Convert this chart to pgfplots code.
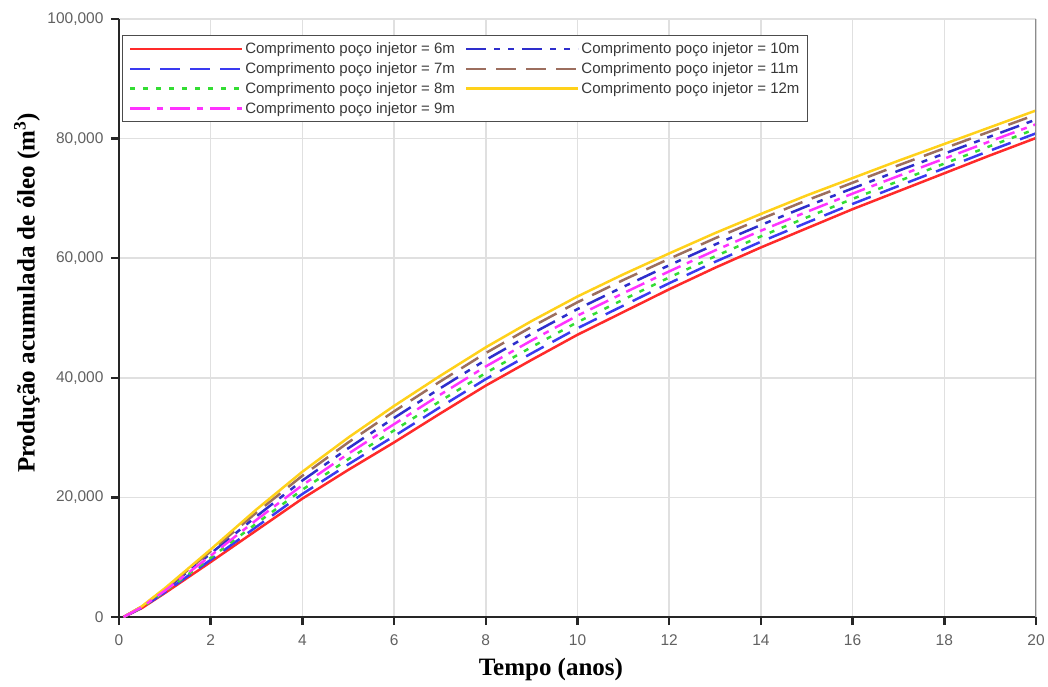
\documentclass[border=0pt]{standalone}
\usepackage{fontspec}
\setmainfont{Liberation Sans}
\newfontfamily\serifb{Liberation Serif}
\usepackage{pgfplots}
\pgfplotsset{compat=1.18}
\definecolor{c6}{HTML}{FF2A2A}
\definecolor{c7}{HTML}{3A3AF0}
\definecolor{c8}{HTML}{33DD33}
\definecolor{c9}{HTML}{FF33FF}
\definecolor{c10}{HTML}{2E2ECC}
\definecolor{c11}{HTML}{9C6E5E}
\definecolor{c12}{HTML}{FFD11A}
\begin{document}
\begin{tikzpicture}
\begin{axis}[
 scale only axis, width=917pt, height=598pt,
 xmin=0, xmax=20, ymin=0, ymax=100000,
 xtick={0,2,4,6,8,10,12,14,16,18,20}, ytick={0,20000,40000,60000,80000,100000},
 xticklabels={0,2,4,6,8,10,12,14,16,18,20},
 yticklabels={0,{20,000},{40,000},{60,000},{80,000},{100,000}},
 axis x line*=bottom, axis y line*=left,
 axis line style={line width=2.5pt, color=black!85},
 tick align=outside, major tick length=8pt,
 every tick/.style={line width=2.5pt, black!85},
 grid=major, grid style={line width=1.5pt, color=black!12},
 ticklabel style={font=\fontsize{15.5}{18}\selectfont, color=black!62},
 xticklabel style={yshift=-6pt},
 yticklabel style={xshift=-4pt},
 scaled y ticks=false,
 xlabel={\serifb\bfseries Tempo (anos)},
 xlabel style={at={(axis description cs:0.471,-0.0886)}, anchor=center, font=\fontsize{25}{30}\selectfont},
 ylabel={\serifb\bfseries Produção acumulada de óleo (m\textsuperscript{3})},
 ylabel style={at={(axis description cs:-0.1003,0.542)}, anchor=center, font=\fontsize{25}{30}\selectfont},
 legend style={at={(axis description cs:0.0035,0.973)}, anchor=north west, draw=black!70, line width=1.2pt, fill=white,
   font=\fontsize{15}{17}\selectfont, text=black!78, inner xsep=6pt, inner ysep=5pt, row sep=3.5pt,
   nodes={inner sep=2pt},
   /tikz/every even column/.append style={column sep=8pt}},
 legend columns=2, legend cell align=left,
 legend image code/.code={\draw[#1, line width=2.5pt] (0pt,0pt) -- (112pt,0pt);},
 every axis plot/.append style={line width=2.5pt},
]
\addplot[c6, solid] coordinates {(0.1,0)(0.5,1500)(1,4000)(2,9200)(3,14500)(4,19800)(5,24600)(6,29200)(7,34000)(8,38700)(9,43000)(10,47200)(11,51000)(12,54800)(13,58400)(14,61800)(15,65000)(16,68200)(17,71200)(18,74200)(19,77200)(20,80100)};
\addlegendentry{Comprimento poço injetor = 6m}
\addplot[c10, dash pattern=on 20pt off 8pt on 6pt off 8pt on 6pt off 8pt] coordinates {(0.1,0)(0.5,1700)(1,4540)(2,10610)(3,16850)(4,22820)(5,28220)(6,33290)(7,38220)(8,42990)(9,47360)(10,51490)(11,55220)(12,58820)(13,62290)(14,65550)(15,68690)(16,71680)(17,74620)(18,77480)(19,80350)(20,83180)};
\addlegendentry{Comprimento poço injetor = 10m}
\addplot[c7, dash pattern=on 20pt off 10pt] coordinates {(0.1,0)(0.5,1550)(1,4140)(2,9560)(3,15100)(4,20570)(5,25520)(6,30240)(7,35070)(8,39790)(9,44100)(10,48290)(11,52070)(12,55820)(13,59390)(14,62750)(15,65940)(16,69080)(17,72070)(18,75030)(19,78000)(20,80880)};
\addlegendentry{Comprimento poço injetor = 7m}
\addplot[c11, dash pattern=on 20pt off 10pt] coordinates {(0.1,0)(0.5,1760)(1,4680)(2,10990)(3,17480)(4,23630)(5,29190)(6,34390)(7,39360)(8,44140)(9,48530)(10,52640)(11,56360)(12,59900)(13,63330)(14,66560)(15,69680)(16,72620)(17,75540)(18,78370)(19,81200)(20,84010)};
\addlegendentry{Comprimento poço injetor = 11m}
\addplot[c8, dash pattern=on 5pt off 8pt] coordinates {(0.1,0)(0.5,1600)(1,4260)(2,9890)(3,15660)(4,21290)(5,26380)(6,31210)(7,36080)(8,40810)(9,45150)(10,49310)(11,53080)(12,56780)(13,60310)(14,63650)(15,66820)(16,69920)(17,72880)(18,75820)(19,78750)(20,81620)};
\addlegendentry{Comprimento poço injetor = 8m}
\addplot[c12, solid] coordinates {(0.1,0)(0.5,1800)(1,4800)(2,11300)(3,18000)(4,24300)(5,30000)(6,35300)(7,40300)(8,45100)(9,49500)(10,53600)(11,57300)(12,60800)(13,64200)(14,67400)(15,70500)(16,73400)(17,76300)(18,79100)(19,81900)(20,84700)};
\addlegendentry{Comprimento poço injetor = 12m}
\addplot[c9, dash pattern=on 20pt off 7pt on 6pt off 7pt] coordinates {(0.1,0)(0.5,1650)(1,4400)(2,10250)(3,16250)(4,22050)(5,27300)(6,32250)(7,37150)(8,41900)(9,46250)(10,50400)(11,54150)(12,57800)(13,61300)(14,64600)(15,67750)(16,70800)(17,73750)(18,76650)(19,79550)(20,82400)};
\addlegendentry{Comprimento poço injetor = 9m}
\draw[black!45, line width=2pt] (rel axis cs:1,0) -- (rel axis cs:1,1);
\end{axis}
\pgfresetboundingbox
\path (-119pt,-69pt) rectangle (929pt,617pt);
\end{tikzpicture}
\end{document}
